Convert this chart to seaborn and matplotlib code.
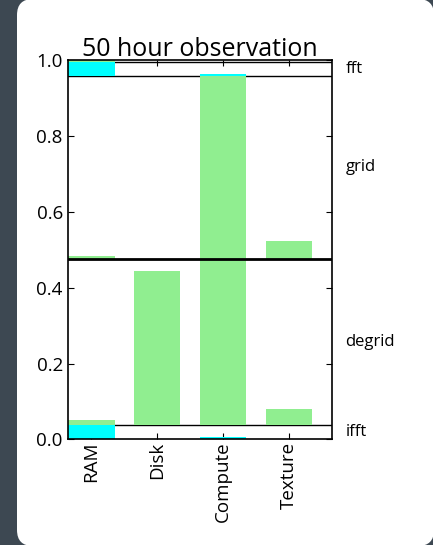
import matplotlib
matplotlib.use("Agg")
import matplotlib.pyplot as plt
import matplotlib.transforms as mtransforms
from matplotlib.patches import FancyBboxPatch
import seaborn as sns

# resource categories along the x axis
categories = ["RAM", "Disk", "Compute", "Texture"]

# pipeline stages, bottom to top, and where each one sits on the y axis
stage_names = ["ifft", "degrid", "grid", "fft", ""]
stage_bounds = [0.0, 0.037, 0.475, 0.959, 0.995, 1.0]
stage_colors = ["cyan", "lightgreen", "lightgreen", "cyan", "lightgreen"]

# usage of each resource inside each stage (fraction of the stage band)
ifft_usage = [1.0, 0.0, 0.2, 0.0]
degrid_usage = [0.03, 0.93, 1.0, 0.10]
grid_usage = [0.02, 0.0, 1.0, 0.10]
fft_usage = [1.0, 0.0, 0.1, 0.0]
top_usage = [1.0, 0.0, 0.0, 0.0]
stage_usage = [ifft_usage, degrid_usage, grid_usage, fft_usage, top_usage]

sns.set_theme(style="ticks")
plt.rcParams['font.family'] = ['Open Sans', 'DejaVu Sans']
plt.rcParams['text.color'] = 'black'

fig = plt.figure(figsize=(4.33, 5.45), dpi=100, facecolor='#3d4852')

# white rounded card behind the plot
panel = FancyBboxPatch((17, -1), 417, 547, boxstyle="round,pad=0,rounding_size=16",
                       facecolor='white', edgecolor='none',
                       transform=mtransforms.IdentityTransform(), zorder=-1)
fig.add_artist(panel)

ax = fig.add_axes([0.158, 0.1936, 0.609, 0.6963])
ax.set_facecolor('white')

for i, usage in enumerate(stage_usage):
    lo, hi = stage_bounds[i], stage_bounds[i + 1]
    for j, frac in enumerate(usage):
        if frac <= 0:
            continue
        ax.bar(j, frac * (hi - lo), bottom=lo, width=0.7, align='edge',
               color=stage_colors[i], linewidth=0, zorder=2)

# stage separators
for k, b in enumerate(stage_bounds[1:-1]):
    if stage_names[k + 1] == "grid":
        ax.axhline(b, color='black', linewidth=2.0, zorder=3)
    else:
        ax.axhline(b, color='black', linewidth=1.0, zorder=1.5)

# stage labels on the right
trans = mtransforms.blended_transform_factory(ax.transAxes, ax.transData)
for i, name in enumerate(stage_names):
    if not name:
        continue
    mid = (stage_bounds[i] + stage_bounds[i + 1]) / 2
    ax.text(1.05, mid, name, transform=trans, va='center', ha='left',
            fontsize=12, color='black')

ax.set_xlim(0, 4)
ax.set_ylim(0, 1)
ax.set_xticks([j + 0.35 for j in range(len(categories))])
ax.set_xticklabels(categories, rotation=90)
ax.set_yticks([0.0, 0.2, 0.4, 0.6, 0.8, 1.0])
ax.set_yticklabels(['0.0', '0.2', '0.4', '0.6', '0.8', '1.0'])
ax.tick_params(direction='in', top=True, right=True, length=4, width=0.8,
               labelsize=13.5, colors='black', pad=4)
ax.tick_params(axis='x', pad=1.5)
for s in ax.spines.values():
    s.set_color('black')
    s.set_linewidth(1.2)
ax.set_title('50 hour observation', fontsize=18, pad=3, color='black')

fig.savefig('out.png', dpi=100, facecolor=fig.get_facecolor())
